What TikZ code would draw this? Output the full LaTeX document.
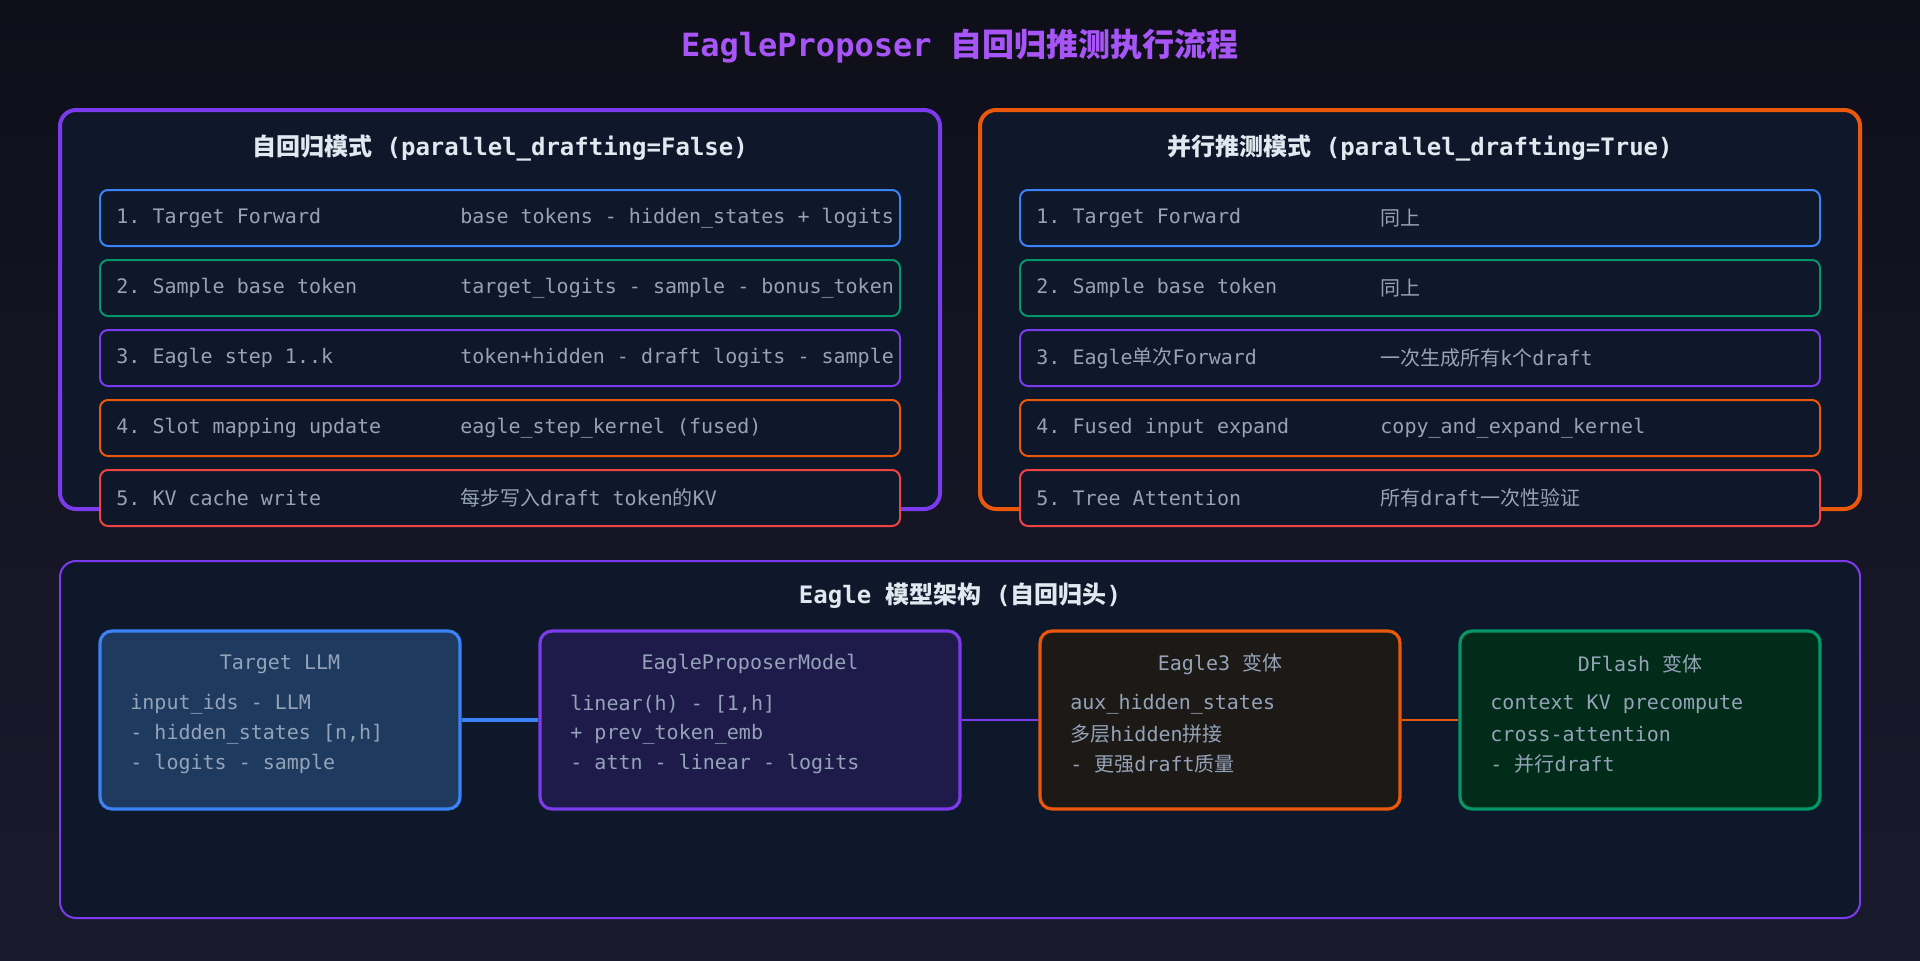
\documentclass[tikz,border=0pt]{standalone}
\usepackage{fontspec}
\setmonofont{DejaVu Sans Mono}
\newfontfamily\cjk{Noto Sans CJK SC}
\usetikzlibrary{positioning}
\definecolor{bgA}{HTML}{0F0F1A}
\definecolor{bgB}{HTML}{1A1A2E}
\definecolor{panel}{HTML}{0F172A}
\definecolor{ctext}{HTML}{94A3B8}
\definecolor{ctitle}{HTML}{E2E8F0}
\definecolor{cblue}{HTML}{3B82F6}
\definecolor{cgreen}{HTML}{059669}
\definecolor{cpurple}{HTML}{7C3AED}
\definecolor{corange}{HTML}{EA580C}
\definecolor{cred}{HTML}{EF4444}
\definecolor{cviolet}{HTML}{A855F7}
\definecolor{fblue}{HTML}{1E3A5F}
\definecolor{fpurple}{HTML}{1E1B4B}
\definecolor{fbrown}{HTML}{1C1917}
\definecolor{fgreen}{HTML}{022C1A}
\tikzset{
  pane/.style={draw=#1, line width=2pt, rounded corners=8pt, fill=panel},
  step/.style={draw=#1, line width=1pt, rounded corners=4pt, fill=panel},
  unit/.style 2 args={draw=#1, fill=#2, line width=1.6pt, rounded corners=6pt},
  txt/.style={text=ctext, font=\ttfamily\fontsize{10}{12}\selectfont, anchor=west, inner sep=0pt},
  ptitle/.style={text=ctitle, font=\ttfamily\bfseries\fontsize{12}{14}\selectfont},
}
\begin{document}
\begin{tikzpicture}[x=0.5pt, y=-0.5pt]
  \shade[top color=bgA, bottom color=bgB] (0,0) rectangle (1920,960);
  \useasboundingbox (0,0) rectangle (1920,960);

  \node[text=cviolet, font=\ttfamily\bfseries\fontsize{16}{18}\selectfont] (title) at (960,46)
    {EagleProposer {\cjk 自回归推测执行流程}};

  % panels
  \draw[pane=cpurple] (60,110) rectangle (940,509);
  \draw[pane=corange] (980,110) rectangle (1860,509);
  \node[ptitle] (ltitle) at (500,148) {{\cjk 自回归模式} (parallel\_drafting=False)};
  \node[ptitle] (rtitle) at (1420,148) {{\cjk 并行推测模式} (parallel\_drafting=True)};

  % steps, left
  \foreach \c/\a/\b [count=\n] in {
    cblue/1. Target Forward/base tokens - hidden\_states + logits,
    cgreen/2. Sample base token/target\_logits - sample - bonus\_token,
    cpurple/3. Eagle step 1..k/token+hidden - draft logits - sample,
    corange/4. Slot mapping update/eagle\_step\_kernel (fused),
    cred/5. KV cache write/{{\cjk 每步写入}draft token{\cjk 的}KV}} {
      \draw[step=\c] (100,120+70*\n) rectangle (900,176+70*\n);
      \node[txt] (la\n) at (116,148+70*\n) {\a};
      \node[txt] (lb\n) at (460,148+70*\n) {\b};
    }

  % steps, right
  \foreach \c/\a/\b [count=\n] in {
    cblue/1. Target Forward/{\cjk 同上},
    cgreen/2. Sample base token/{\cjk 同上},
    cpurple/{3. Eagle{\cjk 单次}Forward}/{{\cjk 一次生成所有}k{\cjk 个}draft},
    corange/4. Fused input expand/copy\_and\_expand\_kernel,
    cred/5. Tree Attention/{{\cjk 所有}draft{\cjk 一次性验证}}} {
      \draw[step=\c] (1020,120+70*\n) rectangle (1820,176+70*\n);
      \node[txt] (ra\n) at (1036,148+70*\n) {\a};
      \node[txt] (rb\n) at (1380,148+70*\n) {\b};
    }

  % model architecture
  \draw[draw=cpurple, line width=1pt, rounded corners=8pt, fill=panel] (60,561) rectangle (1860,918);
  \node[ptitle] (btitle) at (960,596) {Eagle {\cjk 模型架构} ({\cjk 自回归头})};

  \node[unit={cblue}{fblue}, minimum width=180pt, minimum height=89pt] (llm) at (280,720) {};
  \node[unit={cpurple}{fpurple}, minimum width=210pt, minimum height=89pt] (eagle) at (750,720) {};
  \node[unit={corange}{fbrown}, minimum width=180pt, minimum height=89pt] (eagle3) at (1220,720) {};
  \node[unit={cgreen}{fgreen}, minimum width=180pt, minimum height=89pt] (dflash) at (1640,720) {};

  \draw[cblue, line width=1.6pt] (llm) -- (eagle);
  \draw[cpurple, line width=0.8pt] (eagle) -- (eagle3);
  \draw[corange, line width=0.8pt] (eagle3) -- (dflash);

  \foreach \nm/\cx/\x/\h/\p/\q/\r in {
    llm/280/130/Target LLM/input\_ids - LLM/{- hidden\_states [n,h]}/- logits - sample,
    eagle/750/570/EagleProposerModel/{linear(h) - [1,h]}/+ prev\_token\_emb/- attn - linear - logits,
    eagle3/1220/1070/{Eagle3 {\cjk 变体}}/aux\_hidden\_states/{{\cjk 多层}hidden{\cjk 拼接}}/{- {\cjk 更强}draft{\cjk 质量}},
    dflash/1640/1490/{DFlash {\cjk 变体}}/context KV precompute/cross-attention/{- {\cjk 并行}draft}} {
      \node[txt, anchor=center] (\nm-h) at (\cx,664) {\h};
      \node[txt] (\nm-p) at (\x,704) {\p};
      \node[txt] (\nm-q) at (\x,734) {\q};
      \node[txt] (\nm-r) at (\x,764) {\r};
    }
\end{tikzpicture}
\end{document}
